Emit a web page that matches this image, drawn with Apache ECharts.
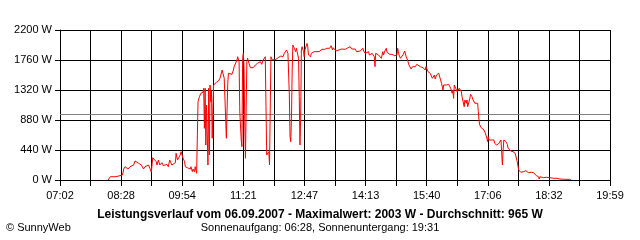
<!DOCTYPE html>
<html><head><meta charset="utf-8">
<script src="https://cdn.jsdelivr.net/npm/echarts@6/dist/echarts.min.js"></script>
<style>html,body{margin:0;padding:0;background:#fff}#c{width:640px;height:240px}</style>
</head><body><div id="c"></div>
<script>
const axisStart = "07:02";
const axisEnd = "19:59";
const gridSteps = 18;
const tickLabels = ["07:02","08:28","09:54","11:21","12:47","14:13","15:40","17:06","18:32","19:59"];
const yMax = 2200;
const yStep = 440;
const averageW = 965;
const titleText = "Leistungsverlauf vom 06.09.2007 - Maximalwert: 2003 W - Durchschnitt: 965 W";
const subText = "Sonnenaufgang: 06:28, Sonnenuntergang: 19:31";
const creditText = "\u00A9 SunnyWeb";

const times = [
"08:10","08:13","08:21","08:23","08:30","08:31","08:32","08:34","08:36","08:38",
"08:41","08:43","08:46","08:48","08:50","08:53","08:55","08:57","09:00","09:02",
"09:04","09:07","09:09","09:11","09:13","09:15","09:18","09:19","09:21","09:23",
"09:26","09:28","09:30","09:33","09:35","09:37","09:40","09:42","09:45","09:46",
"09:48","09:50","09:52","09:53","09:54","09:56","09:58","09:59","10:00","10:02",
"10:04","10:06","10:07","10:09","10:10","10:12","10:13","10:15","10:16","10:17",
"10:19","10:21","10:23","10:24","10:25","10:26","10:27","10:28","10:29","10:31",
"10:32","10:33","10:34","10:35","10:36","10:37","10:39","10:40","10:43","10:46",
"10:48","10:49","10:51","10:53","10:54","10:56","10:57","10:59","11:00","11:02",
"11:05","11:07","11:08","11:10","11:12","11:13","11:14","11:15","11:16","11:18",
"11:19","11:20","11:21","11:22","11:23","11:24","11:25","11:26","11:27","11:29",
"11:31","11:35","11:38","11:41","11:45","11:47","11:49","11:51","11:52","11:53",
"11:54","11:55","11:56","11:57","11:58","11:59","12:00","12:01","12:02","12:04",
"12:07","12:09","12:11","12:14","12:16","12:17","12:19","12:21","12:22","12:24",
"12:25","12:26","12:27","12:28","12:29","12:30","12:31","12:33","12:34","12:35",
"12:36","12:37","12:38","12:39","12:40","12:41","12:42","12:43","12:44","12:45",
"12:46","12:47","12:48","12:50","12:51","12:52","12:53","12:54","12:56","12:57",
"12:59","13:01","13:03","13:05","13:06","13:08","13:10","13:12","13:14","13:16",
"13:19","13:21","13:23","13:25","13:27","13:28","13:30","13:32","13:34","13:36",
"13:38","13:40","13:42","13:45","13:47","13:49","13:52","13:54","13:56","13:59",
"14:01","14:03","14:06","14:08","14:10","14:11","14:13","14:15","14:18","14:19",
"14:21","14:23","14:25","14:26","14:27","14:28","14:30","14:32","14:34","14:36",
"14:38","14:39","14:41","14:43","14:44","14:46","14:48","14:51","14:53","14:55",
"14:58","14:59","15:00","15:01","15:03","15:05","15:07","15:09","15:11","15:13",
"15:15","15:16","15:18","15:20","15:22","15:24","15:26","15:28","15:31","15:33",
"15:35","15:38","15:39","15:40","15:42","15:45","15:46","15:48","15:49","15:51",
"15:52","15:54","15:56","15:57","15:59","16:00","16:01","16:03","16:04","16:05",
"16:06","16:08","16:11","16:13","16:14","16:16","16:17","16:18","16:19","16:20",
"16:21","16:23","16:25","16:26","16:28","16:29","16:30","16:32","16:33","16:34",
"16:36","16:37","16:38","16:40","16:41","16:42","16:44","16:45","16:47","16:48",
"16:50","16:52","16:53","16:54","16:55","16:57","16:59","17:01","17:03","17:05",
"17:06","17:07","17:08","17:10","17:12","17:14","17:15","17:16","17:18","17:19",
"17:20","17:22","17:24","17:25","17:26","17:27","17:28","17:29","17:31","17:32",
"17:34","17:35","17:37","17:39","17:41","17:42","17:45","17:47","17:48","17:50",
"17:51","17:53","17:55","17:57","17:59","18:00","18:02","18:04","18:06","18:08",
"18:11","18:13","18:15","18:18","18:19","18:20","18:22","18:25","18:29","18:34",
"18:39","18:44","18:48","18:55","19:02","19:04"
];
const watts = [
0,48,48,73,73,103,161,195,172,161,
195,180,220,279,268,245,264,220,161,195,
180,220,172,113,327,304,268,220,293,220,
254,210,195,230,195,293,220,245,254,392,
293,333,367,415,392,318,268,195,220,180,
195,161,195,122,161,122,195,98,122,1148,
1222,1272,1247,1286,1345,758,1345,513,1100,220,
1345,367,1393,1148,1320,612,1393,1418,1433,1452,
1492,1515,1613,1613,1492,1467,612,1418,1565,1588,
1550,1613,1662,1662,1760,1808,1833,1735,1002,587,
488,1785,1858,1638,855,318,1075,1735,1785,1711,
1647,1647,1687,1711,1735,1697,1760,1785,1808,1075,
367,392,342,415,220,1027,1808,1785,1760,1785,
1770,1785,1800,1818,1833,1808,1858,1882,1907,1858,
1833,1247,635,562,905,1613,1980,1932,1955,1882,
1932,1882,1907,1785,1222,513,905,1907,1955,1932,
1882,1808,1907,1932,2003,1955,1833,1858,1808,1858,
1833,1882,1858,1882,1867,1882,1907,1917,1921,1917,
1932,1921,1932,1970,1907,1940,1921,1892,1921,1907,
1907,1921,1892,1917,1892,1940,1955,1921,1907,1921,
1882,1858,1892,1882,1932,1892,1858,1873,1882,1833,
1808,1858,1882,1808,1662,1858,1882,1833,1858,1785,
1882,1833,1892,1932,1873,1858,1843,1843,1833,1823,
1833,1932,1882,1833,1785,1808,1843,1892,1808,1760,
1687,1662,1628,1662,1687,1662,1697,1687,1662,1672,
1647,1613,1662,1677,1588,1565,1540,1492,1492,1540,
1481,1540,1515,1565,1492,1515,1418,1320,1393,1403,
1369,1393,1403,1383,1345,1272,1320,1198,1393,1403,
1345,1295,1320,1345,1345,1295,1222,1222,1075,1173,
1125,1173,1075,1052,1198,1257,1222,1188,1173,1125,
1148,1125,1002,865,807,767,758,733,685,612,
562,635,587,612,587,612,587,538,562,513,
488,538,562,587,392,220,440,587,601,562,
523,465,440,425,406,415,392,392,268,147,
122,113,98,122,113,136,113,107,107,113,
107,84,63,48,15,48,34,34,40,34,
25,25,15,10,10,0
];

function toMin(s){ const p = s.split(":"); return (+p[0])*60 + (+p[1]); }
const t0 = toMin(axisStart), t1 = toMin(axisEnd);
const stepMin = (t1 - t0) / gridSteps;
const seriesData = times.map((t, i) => [(toMin(t) - t0) / stepMin, watts[i]]);

const FONT = '"Liberation Sans", Arial, sans-serif';
const chart = echarts.init(document.getElementById('c'), null, {renderer: 'canvas'});
chart.setOption({
  animation: false,
  backgroundColor: '#fff',
  grid: {left: 60, right: 30, top: 30, bottom: 60, containLabel: false},
  xAxis: {
    type: 'value', min: 0, max: gridSteps, interval: 1,
    axisLine: {show: true, onZero: false, lineStyle: {color: '#000', width: 1}},
    axisTick: {show: true, length: 6, lineStyle: {color: '#000'}},
    splitLine: {show: true, lineStyle: {color: '#000', width: 1}},
    axisLabel: {
      show: true, margin: 10, color: '#000', fontSize: 11, fontFamily: FONT,
      showMinLabel: true, showMaxLabel: true, hideOverlap: false,
      formatter: v => { const k = Math.round(v); return k % 2 === 0 ? tickLabels[k/2] : ''; }
    }
  },
  yAxis: {
    type: 'value', min: 0, max: yMax, interval: yStep,
    axisLine: {show: true, lineStyle: {color: '#000', width: 1}},
    axisTick: {show: true, length: 5, lineStyle: {color: '#000'}},
    splitLine: {show: true, lineStyle: {color: '#000', width: 1}},
    axisLabel: {margin: 8, color: '#000', fontSize: 11, fontFamily: FONT, formatter: v => v + ' W'}
  },
  series: [{
    type: 'line', data: seriesData, showSymbol: false, symbol: 'none',
    lineStyle: {color: '#ff0000', width: 1}, z: 5,
    markLine: {
      silent: true, symbol: ['none','none'], label: {show: false},
      lineStyle: {color: '#808080', width: 1, type: 'solid'},
      data: [{yAxis: averageW}]
    }
  }],
  graphic: [
    {type: 'text', left: 'center', top: 209, style: {text: titleText, font: 'bold 12px ' + FONT, fill: '#000'}},
    {type: 'text', left: 'center', top: 222, style: {text: subText, font: '11px ' + FONT, fill: '#000'}},
    {type: 'text', left: 6, top: 222, style: {text: creditText, font: '11px ' + FONT, fill: '#000'}}
  ]
});
</script>
</body></html>
